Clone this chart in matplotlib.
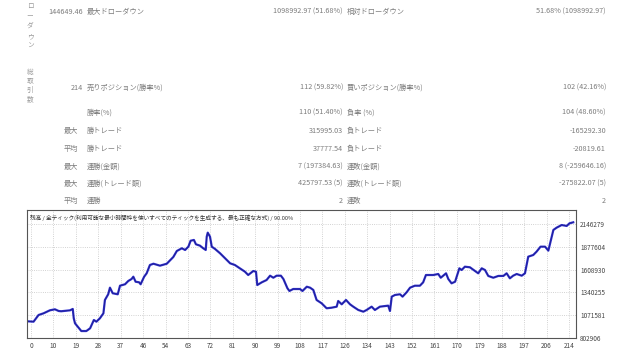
import matplotlib
matplotlib.use("Agg")
import matplotlib.pyplot as plt
import numpy as np

plt.rcParams['font.family'] = ['Noto Sans CJK JP', 'DejaVu Sans']

# report table (top part)
row1 = ["144649.46", "最大ドローダウン", "1098992.97 (51.68%)", "相対ドローダウン", "51.68% (1098992.97)"]
row2 = ["214", "売りポジション(勝率%)", "112 (59.82%)", "買いポジション(勝率%)", "102 (42.16%)"]
rows_prefix = ["", "最大", "平均", "最大", "最大", "平均"]
rows_label1 = ["勝率(%)", "勝トレード", "勝トレード", "連勝(金額)", "連勝(トレード額)", "連勝"]
rows_value1 = ["110 (51.40%)", "315995.03", "37777.54", "7 (197384.63)", "425797.53 (5)", "2"]
rows_label2 = ["負率 (%)", "負トレード", "負トレード", "連敗(金額)", "連敗(トレード額)", "連敗"]
rows_value2 = ["104 (48.60%)", "-165292.30", "-20819.61", "8 (-259646.16)", "-275822.07 (5)", "2"]
side_label1 = "ローダウン"
side_label2 = "総取引数"

# balance curve
trade = [-1.5, 1, 3, 5, 7.5, 9.5, 11, 12, 15.5, 16.6, 17, 17.5, 20, 22, 23.5, 25, 26, 27.4,
         28.8, 29.4, 30.7, 31.4, 32.5, 34.5, 35.4, 37.4, 38.7, 40, 40.7, 41.6, 43, 43.6, 45,
         46, 47.3, 48.7, 51.3, 54, 56.6, 58, 60, 61.3, 62.6, 63.5, 64.8, 65.6, 67.2, 68.5,
         69.5, 69.9, 70.3, 71.2, 71.9, 73.2, 75.2, 77.2, 79.2, 81.1, 83.1, 85.1, 86.4, 88.4,
         89.5, 90, 91.8, 93.7, 95.1, 96.4, 97.7, 99.4, 100.4, 102, 102.8, 104.3, 107, 108,
         109.7, 111, 112.3, 113.6, 115.6, 117.6, 119.6, 121.6, 122.2, 123.6, 125.3, 126.9,
         128.2, 130.2, 132.2, 133.5, 135.5, 136.8, 138.8, 140.8, 142.1, 142.8, 143.5, 144.8,
         146.8, 147.8, 149.4, 150.8, 152.7, 154.7, 156, 157.1, 160, 162, 163, 165.1, 166,
         167.3, 168.7, 170.4, 171.3, 172.6, 174.6, 176.6, 177.9, 179.3, 180.6, 181.9, 183.9,
         185.9, 187.9, 189.2, 190.5, 191.8, 193.2, 195.2, 196.5, 197.8, 199.8, 201.1, 202.7,
         204.5, 205.8, 207.8, 209.1, 211.1, 213.1, 214.2, 215.7]
balance = [1000000, 995000, 1074000, 1094000, 1129000, 1141000, 1121000, 1118000, 1129000,
           1145000, 1035000, 976000, 885000, 885000, 917000, 1015000, 995000, 1035000,
           1094000, 1251000, 1318000, 1396000, 1330000, 1318000, 1419000, 1436000, 1475000,
           1498000, 1525000, 1466000, 1459000, 1436000, 1525000, 1565000, 1663000, 1678000,
           1655000, 1678000, 1757000, 1828000, 1860000, 1840000, 1879000, 1949000, 1958000,
           1907000, 1891000, 1860000, 1840000, 1997000, 2044000, 1997000, 1879000, 1852000,
           1801000, 1742000, 1683000, 1663000, 1624000, 1584000, 1545000, 1592000, 1584000,
           1427000, 1459000, 1486000, 1537000, 1513000, 1537000, 1537000, 1498000, 1389000,
           1357000, 1380000, 1380000, 1357000, 1407000, 1396000, 1369000, 1251000, 1212000,
           1153000, 1160000, 1172000, 1239000, 1200000, 1251000, 1200000, 1172000, 1133000,
           1113000, 1133000, 1172000, 1133000, 1172000, 1180000, 1184000, 1121000, 1290000,
           1310000, 1318000, 1290000, 1341000, 1396000, 1419000, 1419000, 1459000, 1545000,
           1545000, 1557000, 1513000, 1565000, 1498000, 1447000, 1466000, 1624000, 1604000,
           1643000, 1636000, 1592000, 1565000, 1624000, 1604000, 1534000, 1513000, 1534000,
           1534000, 1565000, 1506000, 1537000, 1557000, 1537000, 1565000, 1761000, 1781000,
           1820000, 1879000, 1879000, 1832000, 2076000, 2103000, 2134000, 2123000, 2154000,
           2166000]

xtick_labels = ["0", "10", "19", "28", "37", "46", "54", "63", "72", "81", "90", "99", "108",
                "117", "126", "134", "143", "152", "161", "170", "179", "188", "197", "206", "214"]
ytick_values = [802906, 1071581, 1340255, 1608930, 1877604, 2146279]
chart_title = "残高 / 全ティック(利用可能な最小時間枠を使いすべてのティックを生成する、最も正確な方式) / 90.00%"

W, H = 630, 354
fig = plt.figure(figsize=(6.3, 3.54), dpi=100)
fig.patch.set_facecolor("white")

tc = "#7c7c7c"
fs = 5.2


def px(x, y):
    return x / W, 1 - y / H


def put(x, y, s, ha="left", size=fs, color=tc):
    fig.text(*px(x, y), s, ha=ha, va="center", fontsize=size, color=color)


# table rows
for y, r in [(12, row1), (88, row2)]:
    put(83, y, r[0], ha="right")
    put(87, y, r[1])
    put(343, y, r[2], ha="right")
    put(347, y, r[3])
    put(606, y, r[4], ha="right")

row_y = [113, 131, 149, 167, 184, 201]
for i, y in enumerate(row_y):
    if rows_prefix[i]:
        put(78, y, rows_prefix[i], ha="right")
    put(87, y, rows_label1[i])
    put(343, y, rows_value1[i], ha="right")
    put(347, y, rows_label2[i])
    put(606, y, rows_value2[i], ha="right")

for i, ch in enumerate(side_label1):
    put(30, 6 + i * 10, ch, ha="center", size=4.8, color="#9a9a9a")
for i, ch in enumerate(side_label2):
    put(30, 72 + i * 9, ch, ha="center", size=4.8, color="#9a9a9a")

# chart
ax = fig.add_axes([27 / W, 16 / H, 549 / W, 128 / H])
ax.plot(trade, balance, color="#3434d0", lw=1.6, solid_joinstyle="round")
ax.plot(trade, balance, color="#1c1c90", lw=0.6, solid_joinstyle="round")
ax.set_xlim(-1.6, 216.8)
ax.set_ylim(802906, 2311000)
xt = np.linspace(0, 214, 25)
ax.set_xticks(xt)
ax.set_xticklabels(xtick_labels)
ax.set_yticks(ytick_values)
ax.set_yticklabels([str(v) for v in ytick_values])
ax.yaxis.tick_right()
ax.tick_params(axis="both", length=0, labelsize=4.6, colors="#444444", pad=3)
ax.grid(True, color="#c4c4c4", ls=":", lw=0.6)
for s in ax.spines.values():
    s.set_color("#555555")
    s.set_linewidth(0.8)
ax.text(0.006, 0.94, chart_title, transform=ax.transAxes, fontsize=4.1, color="#333333",
        ha="left", va="center")

fig.savefig("out.png", dpi=100, facecolor="white")
